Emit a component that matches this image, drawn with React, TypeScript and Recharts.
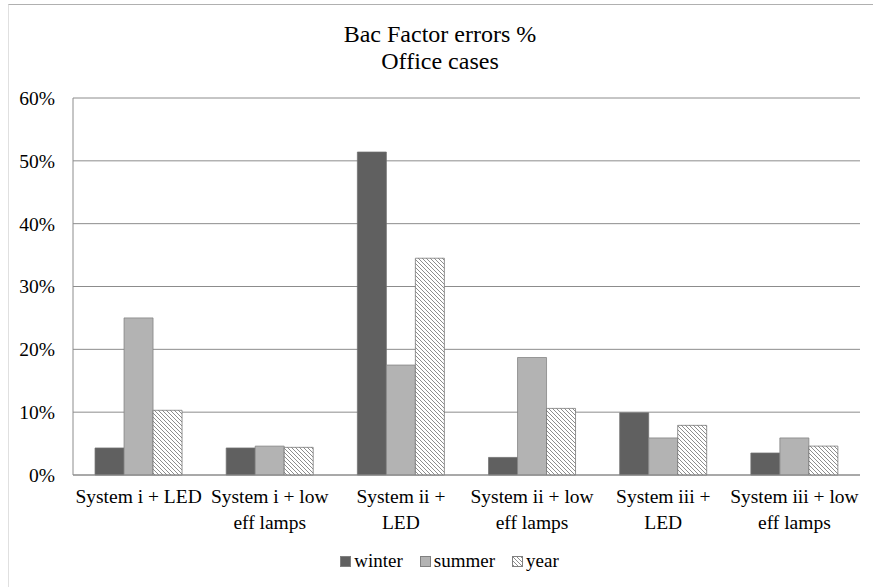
import { BarChart, Bar, XAxis, YAxis, CartesianGrid, Legend } from "recharts";

const categories = [
  "System i + LED",
  "System i + low eff lamps",
  "System ii + LED",
  "System ii + low eff lamps",
  "System iii + LED",
  "System iii + low eff lamps",
];
// how Excel wrapped each label on the axis
const labelLines = [
  ["System i + LED"],
  ["System i + low", "eff lamps"],
  ["System ii +", "LED"],
  ["System ii + low", "eff lamps"],
  ["System iii +", "LED"],
  ["System iii + low", "eff lamps"],
];
const winter = [4.3, 4.3, 51.4, 2.8, 9.9, 3.5];
const summer = [25.0, 4.6, 17.5, 18.7, 5.9, 5.9];
const year = [10.3, 4.4, 34.5, 10.6, 7.9, 4.6];
const yTicks = [0, 10, 20, 30, 40, 50, 60];

const data = categories.map((name, i) => ({
  name,
  winter: winter[i],
  summer: summer[i],
  year: year[i],
}));

const font = "'Liberation Serif', 'Times New Roman', serif";

function CategoryTick(props: any) {
  const { x, y, payload } = props;
  const lines = labelLines[payload.index] ?? [payload.value];
  return (
    <text x={x} y={y} textAnchor="middle" fill="#000" fontSize={19.5} fontFamily={font}>
      {lines.map((l, i) => (
        <tspan key={i} x={x} dy={i === 0 ? 20 : 26}>
          {l}
        </tspan>
      ))}
    </text>
  );
}

function LegendBox() {
  const items = [
    { label: "winter", fill: "#606060" },
    { label: "summer", fill: "#b3b3b3" },
    { label: "year", fill: "url(#hatch)" },
  ];
  return (
    <div style={{ display: "flex", justifyContent: "center", gap: 17, fontFamily: font, fontSize: 19 }}>
      {items.map((it) => (
        <div key={it.label} style={{ display: "flex", alignItems: "center", gap: 3 }}>
          <svg width={11} height={11}>
            <rect x={0.5} y={0.5} width={10} height={10} fill={it.fill} stroke="#808080" />
          </svg>
          <span>{it.label}</span>
        </div>
      ))}
    </div>
  );
}

export default function App() {
  return (
    <div style={{ position: "absolute", left: 0, top: 0, width: 873, height: 587, background: "#fff", overflow: "hidden" }}>
      <div
        style={{
          position: "absolute",
          left: 8,
          top: 4,
          width: 900,
          height: 600,
          borderLeft: "1px solid #e0e0e0",
          borderTop: "1px solid #b0b0b0",
        }}
      />
      <div
        style={{
          position: "absolute",
          top: 21,
          left: 0,
          width: 880,
          textAlign: "center",
          fontFamily: font,
          fontSize: 24,
          lineHeight: "27px",
          color: "#000",
        }}
      >
        <div>Bac Factor errors %</div>
        <div>Office cases</div>
      </div>
      <BarChart
        width={873}
        height={587}
        data={data}
        margin={{ top: 98, right: 13, left: 0, bottom: 30 }}
        barCategoryGap="16.8%"
        barGap={0}
      >
        <defs>
          <pattern id="hatch" patternUnits="userSpaceOnUse" width={4} height={4}>
            <rect width={4} height={4} fill="#fff" />
            <path d="M-1,-1 L5,5 M-1,3 L1,5 M3,-1 L5,1" stroke="#808080" strokeWidth={0.9} />
          </pattern>
        </defs>
        <CartesianGrid vertical={false} stroke="#8c8c8c" />
        <XAxis
          dataKey="name"
          tick={<CategoryTick />}
          tickLine={false}
          axisLine={{ stroke: "#8c8c8c" }}
          interval={0}
          height={60}
        />
        <YAxis
          domain={[0, 60]}
          ticks={yTicks}
          tickFormatter={(v) => `${v}%`}
          tick={{ fill: "#000", fontSize: 19.5, fontFamily: font }}
          tickLine={false}
          axisLine={{ stroke: "#8c8c8c" }}
          width={73}
          tickMargin={12}
        />
        <Legend
          content={<LegendBox />}
          wrapperStyle={{ position: "absolute", left: 13, top: 550, width: 873 }}
        />
        <Bar dataKey="winter" fill="#606060" stroke="#707070" strokeWidth={0.75} isAnimationActive={false} />
        <Bar dataKey="summer" fill="#b3b3b3" stroke="#808080" strokeWidth={0.75} isAnimationActive={false} />
        <Bar dataKey="year" fill="url(#hatch)" stroke="#707070" strokeWidth={0.75} isAnimationActive={false} />
      </BarChart>
    </div>
  );
}
